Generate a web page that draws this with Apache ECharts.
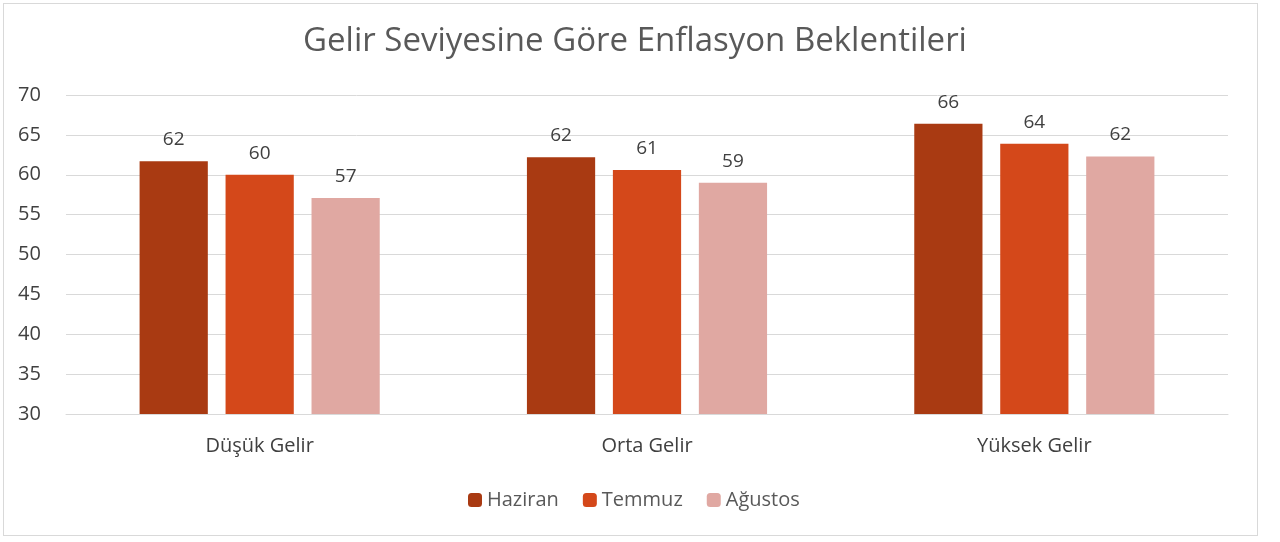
<!DOCTYPE html>
<html><head><meta charset="utf-8">
<script src="https://cdn.jsdelivr.net/npm/echarts@6/dist/echarts.min.js"></script>
<style>html,body{margin:0;padding:0;background:#fff}#c{width:1280px;height:542px}
#frame{position:absolute;left:3px;top:3px;width:1255px;height:533px;border:1px solid #d9d9d9;box-sizing:border-box;pointer-events:none}</style>
</head><body><div id="c"></div><div id="frame"></div>
<script>
const categories = ['Düşük Gelir', 'Orta Gelir', 'Yüksek Gelir'];
const haziran = [61.7, 62.2, 66.4];
const temmuz = [60.0, 60.6, 63.9];
const agustos = [57.1, 59.0, 62.3];
const seriesNames = ['Haziran', 'Temmuz', 'Ağustos'];
const colors = ['#A93A12', '#D4481A', '#E0A8A2'];
const font = '"Open Sans", "Noto Sans", sans-serif';

const chart = echarts.init(document.getElementById('c'));
const label = {show: true, position: 'top', distance: 12, color: '#404040', fontSize: 19, fontFamily: font,
  formatter: p => Math.round(p.value)};
chart.setOption({
  animation: false,
  title: {text: 'Gelir Seviyesine Göre Enflasyon Beklentileri', left: 630, textAlign: 'center', top: 20,
    textStyle: {color: '#595959', fontSize: 33, fontWeight: 'normal', fontFamily: font}},
  legend: {bottom: 27, left: 463, itemWidth: 14, itemHeight: 14, itemGap: 24,
    textStyle: {color: '#595959', fontSize: 20, fontFamily: font}, data: seriesNames},
  grid: {left: 66, right: 52, top: 95, bottom: 128},
  xAxis: {type: 'category', data: categories,
    axisLine: {lineStyle: {color: '#d9d9d9'}}, axisTick: {show: false},
    axisLabel: {color: '#404040', fontSize: 20, fontFamily: font, margin: 22}},
  yAxis: {type: 'value', min: 30, max: 70, interval: 5,
    axisLine: {show: false}, axisTick: {show: false},
    splitLine: {lineStyle: {color: '#d9d9d9', width: 1}},
    axisLabel: {color: '#404040', fontSize: 20, fontFamily: font, margin: 48, align: 'left'}},
  series: [
    {name: seriesNames[0], type: 'bar', data: haziran, itemStyle: {color: colors[0]}, label, barGap: '26%', barCategoryGap: '38%'},
    {name: seriesNames[1], type: 'bar', data: temmuz, itemStyle: {color: colors[1]}, label},
    {name: seriesNames[2], type: 'bar', data: agustos, itemStyle: {color: colors[2]}, label}
  ]
});
</script></body></html>
